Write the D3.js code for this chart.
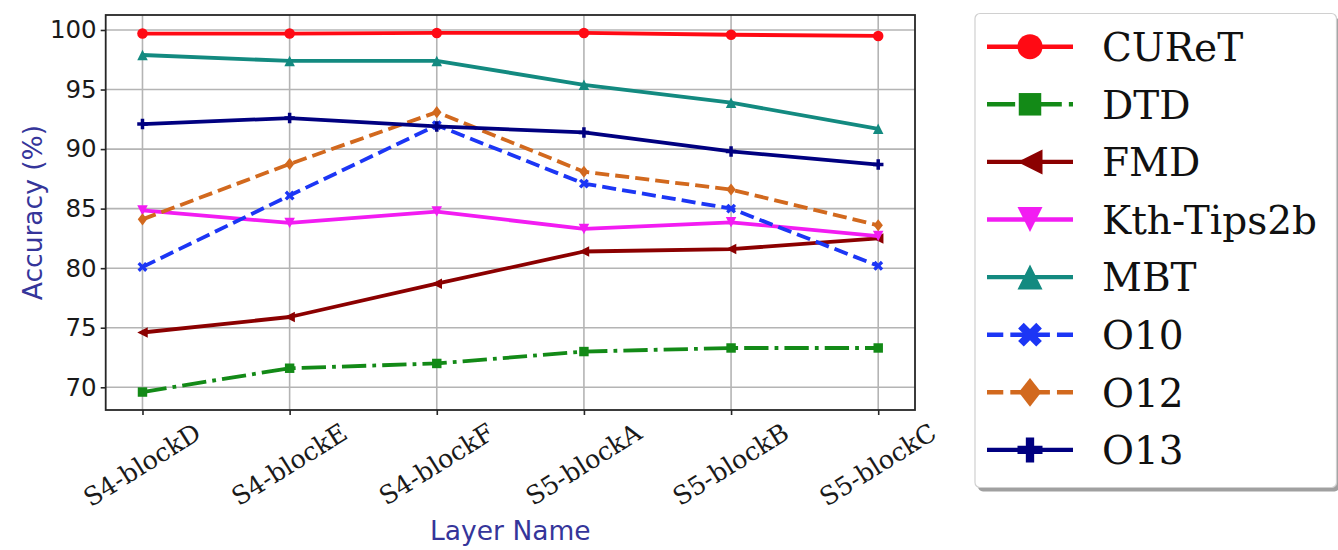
<!DOCTYPE html>
<html>
<head>
<meta charset="utf-8">
<script src="https://cdn.jsdelivr.net/npm/d3@7"></script>
<style>
  html, body { margin: 0; padding: 0; background: #fff; }
  svg { display: block; }
</style>
</head>
<body>
<svg id="chart" width="1338" height="550"></svg>
<script>
// Layer names along the x axis
const layers = ["S4-blockD", "S4-blockE", "S4-blockF", "S5-blockA", "S5-blockB", "S5-blockC"];

// Accuracy (%) per dataset for each layer
const curetAcc = [99.7, 99.7, 99.75, 99.75, 99.6, 99.5];
const dtdAcc   = [69.6, 71.6, 72.0, 73.0, 73.3, 73.3];
const fmdAcc   = [74.6, 75.9, 78.7, 81.4, 81.6, 82.5];
const kthAcc   = [84.85, 83.8, 84.75, 83.3, 83.85, 82.7];
const mbtAcc   = [97.9, 97.4, 97.4, 95.4, 93.9, 91.7];
const o10Acc   = [80.1, 86.1, 92.0, 87.1, 85.0, 80.2];
const o12Acc   = [84.1, 88.75, 93.1, 88.1, 86.6, 83.6];
const o13Acc   = [92.1, 92.6, 91.9, 91.4, 89.8, 88.7];

const datasetNames = ["CUReT", "DTD", "FMD", "Kth-Tips2b", "MBT", "O10", "O12", "O13"];
const yTicks = [70, 75, 80, 85, 90, 95, 100];

// Style per dataset: colour, marker shape, dash style
const series = [
  { name: datasetNames[0], values: curetAcc, color: "#ff0a14", marker: "circle",     dash: "solid" },
  { name: datasetNames[1], values: dtdAcc,   color: "#138a17", marker: "square",     dash: "dashdot" },
  { name: datasetNames[2], values: fmdAcc,   color: "#8b0000", marker: "triLeft",    dash: "solid" },
  { name: datasetNames[3], values: kthAcc,   color: "#f21cf2", marker: "triDown",    dash: "solid" },
  { name: datasetNames[4], values: mbtAcc,   color: "#138a80", marker: "triUp",      dash: "solid" },
  { name: datasetNames[5], values: o10Acc,   color: "#1c36f5", marker: "xFilled",    dash: "dashed" },
  { name: datasetNames[6], values: o12Acc,   color: "#d2691e", marker: "diamond",    dash: "dashed" },
  { name: datasetNames[7], values: o13Acc,   color: "#000080", marker: "plusFilled", dash: "solid" }
];

const svg = d3.select("#chart");

const plot = { left: 105.7, right: 915, top: 15, bottom: 410 };
const LW = 3.8;

// scales
const x = d3.scalePoint().domain(layers).range([plot.left, plot.right]).padding(0.25);
const allVals = series.flatMap(s => s.values);
const vmin = d3.min(allVals), vmax = d3.max(allVals);
const pad = (vmax - vmin) * 0.05;
const y = d3.scaleLinear().domain([vmin - pad, vmax + pad]).range([plot.bottom, plot.top]);

// marker outlines, size = full width in px
function markerPath(type, s) {
  const h = s / 2;
  switch (type) {
    case "circle":
      return `M${h},0A${h},${h} 0 1,1 ${-h},0A${h},${h} 0 1,1 ${h},0Z`;
    case "square": {
      const q = h * 0.9;
      return `M${-q},${-q}H${q}V${q}H${-q}Z`;
    }
    case "triUp":
      return `M0,${-h}L${h},${h}L${-h},${h}Z`;
    case "triDown":
      return `M0,${h}L${h},${-h}L${-h},${-h}Z`;
    case "triLeft":
      return `M${-h},0L${h},${-h}L${h},${h}Z`;
    case "diamond": {
      const d = h * 1.15;
      return `M0,${-d}L${d * 0.78},0L0,${d}L${-d * 0.78},0Z`;
    }
    case "plusFilled": {
      const t = h / 3;
      return `M${-t},${-h}H${t}V${-t}H${h}V${t}H${t}V${h}H${-t}V${t}H${-h}V${-t}H${-t}Z`;
    }
    case "xFilled": {
      const a = h * 0.95, t = h * 0.45;
      const pts = [
        [0, -t], [a - t, -a], [a, -a + t], [t, 0], [a, a - t], [a - t, a],
        [0, t], [-a + t, a], [-a, a - t], [-t, 0], [-a, -a + t], [-a + t, -a]
      ];
      return "M" + pts.map(p => p.join(",")).join("L") + "Z";
    }
  }
}

function dashArray(style, lw) {
  if (style === "dashed") return [3.7 * lw, 1.6 * lw].join(",");
  if (style === "dashdot") return [6.4 * lw, 1.6 * lw, 1 * lw, 1.6 * lw].join(",");
  return null;
}

// grid
const grid = svg.append("g").attr("class", "grid");
grid.selectAll("line.gy").data(yTicks).join("line")
  .attr("class", "gy")
  .attr("x1", plot.left).attr("x2", plot.right)
  .attr("y1", d => y(d)).attr("y2", d => y(d))
  .attr("stroke", "#b4b4b4").attr("stroke-width", 1.6);
grid.selectAll("line.gx").data(layers).join("line")
  .attr("class", "gx")
  .attr("x1", d => x(d)).attr("x2", d => x(d))
  .attr("y1", plot.top).attr("y2", plot.bottom)
  .attr("stroke", "#b4b4b4").attr("stroke-width", 1.6);

// series lines and markers
const line = d3.line().x((d, i) => x(layers[i])).y(d => y(d));
const sg = svg.append("g").attr("class", "series");
series.forEach(s => {
  const g = sg.append("g");
  g.append("path")
    .attr("d", line(s.values))
    .attr("fill", "none")
    .attr("stroke", s.color)
    .attr("stroke-width", LW)
    .attr("stroke-linejoin", "round")
    .attr("stroke-dasharray", dashArray(s.dash, LW));
  g.selectAll("path.mk").data(s.values).join("path")
    .attr("class", "mk")
    .attr("transform", (d, i) => `translate(${x(layers[i])},${y(d)})`)
    .attr("d", markerPath(s.marker, 10.5))
    .attr("fill", s.color);
});

// axes frame
svg.append("rect")
  .attr("x", plot.left).attr("y", plot.top)
  .attr("width", plot.right - plot.left).attr("height", plot.bottom - plot.top)
  .attr("fill", "none").attr("stroke", "#262626").attr("stroke-width", 1.8);

// y axis
const yAxis = d3.axisLeft(y).tickValues(yTicks).tickSize(5).tickPadding(4).tickFormat(d3.format("d"));
const yg = svg.append("g").attr("transform", `translate(${plot.left},0)`).call(yAxis);
yg.select(".domain").remove();
yg.selectAll(".tick line").attr("stroke", "#262626").attr("stroke-width", 1.6);
yg.selectAll(".tick text")
  .attr("font-family", "DejaVu Sans")
  .attr("font-size", 24.5)
  .attr("fill", "#1a1a1a");

// x axis with rotated serif labels
const xAxis = d3.axisBottom(x).tickSize(5).tickFormat(() => "");
const xg = svg.append("g").attr("transform", `translate(0,${plot.bottom})`).call(xAxis);
xg.select(".domain").remove();
xg.selectAll(".tick line").attr("stroke", "#262626").attr("stroke-width", 1.6);

const ROT = 32, xfs = 25.5;
const th = ROT * Math.PI / 180;
const xLabels = svg.append("g").attr("class", "xlabels");
layers.forEach(name => {
  const g = xLabels.append("g");
  const t = g.append("text")
    .text(name)
    .attr("font-family", "DejaVu Serif")
    .attr("font-size", xfs)
    .attr("fill", "#1a1a1a")
    .attr("text-anchor", "middle")
    .attr("dy", "0.32em");
  const L = t.node().getComputedTextLength();
  const H = L * Math.sin(th) + xfs * 1.1 * Math.cos(th);
  const top = plot.bottom + 8.5;
  g.attr("transform", `translate(${x(name)},${top + H / 2}) rotate(${-ROT})`);
});

// axis titles
svg.append("text")
  .attr("x", (plot.left + plot.right) / 2)
  .attr("y", 540)
  .attr("text-anchor", "middle")
  .attr("font-family", "DejaVu Sans")
  .attr("font-size", 26.5)
  .attr("fill", "#35359a")
  .text("Layer Name");

svg.append("text")
  .attr("transform", `translate(42,${(plot.top + plot.bottom) / 2}) rotate(-90)`)
  .attr("text-anchor", "middle")
  .attr("font-family", "DejaVu Sans")
  .attr("font-size", 26.5)
  .attr("fill", "#35359a")
  .text("Accuracy (%)");

// legend
const leg = { x: 975, y: 13.5, w: 361.5, h: 474 };
const lg = svg.append("g").attr("class", "legend");
lg.append("rect")
  .attr("x", leg.x + 3).attr("y", leg.y + 4)
  .attr("width", leg.w).attr("height", leg.h)
  .attr("rx", 5)
  .attr("fill", "#808080").attr("opacity", 0.75);
lg.append("rect")
  .attr("x", leg.x).attr("y", leg.y)
  .attr("width", leg.w).attr("height", leg.h)
  .attr("rx", 5)
  .attr("fill", "#ffffff").attr("stroke", "#d0d0d0").attr("stroke-width", 1.2);

const rowY = i => 46.7 + i * 57.6;
series.forEach((s, i) => {
  const g = lg.append("g").attr("transform", `translate(0,${rowY(i)})`);
  g.append("line")
    .attr("x1", 987).attr("x2", 1073)
    .attr("y1", 0).attr("y2", 0)
    .attr("stroke", s.color)
    .attr("stroke-width", 4.4)
    .attr("stroke-dasharray", dashArray(s.dash, 4.4));
  g.append("path")
    .attr("transform", "translate(1030,0)")
    .attr("d", markerPath(s.marker, 25))
    .attr("fill", s.color);
  g.append("text")
    .attr("x", 1102).attr("y", 14.2)
    .attr("font-family", "DejaVu Serif")
    .attr("font-size", 39)
    .attr("fill", "#111")
    .text(s.name);
});
</script>
</body>
</html>
